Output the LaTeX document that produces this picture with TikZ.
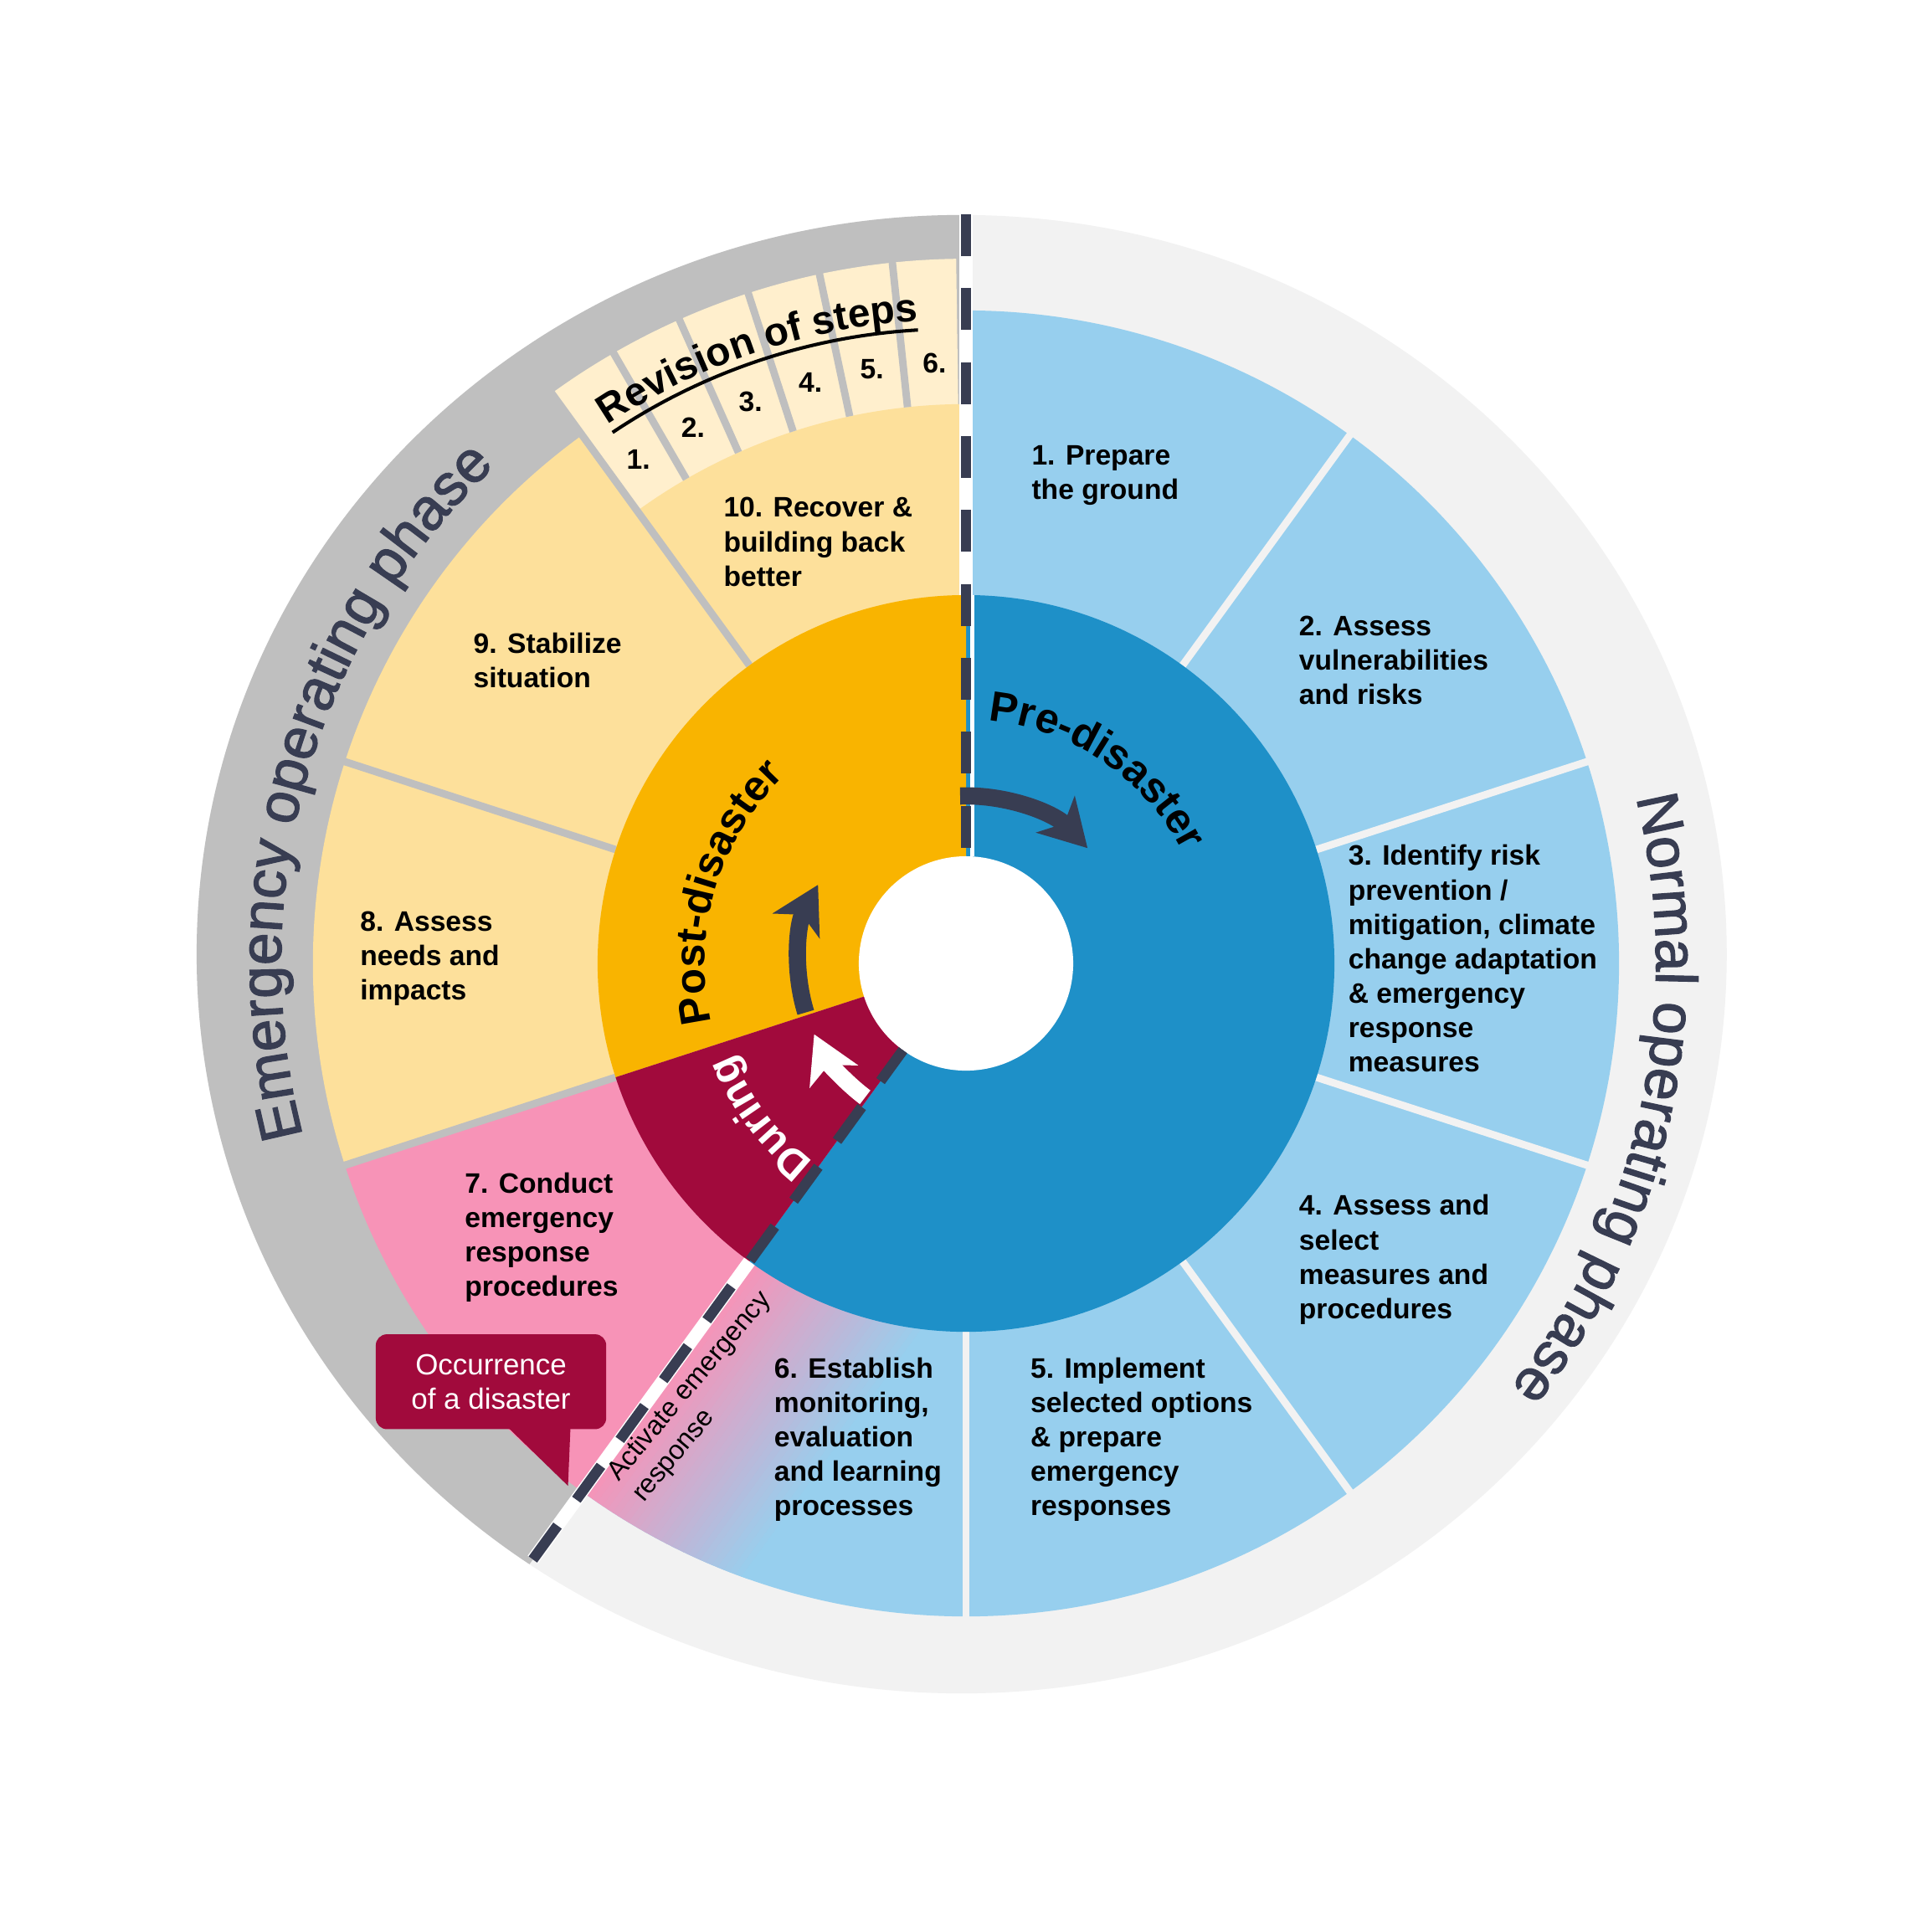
\documentclass[tikz,border=0pt]{standalone}
\usepackage{fontspec}
\setmainfont{Liberation Sans}
\newfontfamily\ringfamily{Liberation Sans}[FakeBold=1.8]
\usetikzlibrary{arrows.meta,decorations.text}

\definecolor{lightblue}{HTML}{97CFEE}
\definecolor{deepblue}{HTML}{1E90C8}
\definecolor{amber}{HTML}{F9B400}
\definecolor{paleyellow}{HTML}{FDE09B}
\definecolor{cream}{HTML}{FFEFCD}
\definecolor{pinkseg}{HTML}{F793B7}
\definecolor{crimson}{HTML}{A10A3C}
\definecolor{ringgray}{HTML}{BFBFBF}
\definecolor{ringlight}{HTML}{F2F2F2}
\definecolor{slate}{HTML}{383D52}

\newcommand{\ringtext}{\ringfamily\fontsize{27}{30}\selectfont\color{slate}}
\newcommand{\phasetext}{\bfseries\fontsize{19.6}{22}\selectfont}
\newcommand{\duringtext}{\bfseries\fontsize{19.6}{22}\selectfont\color{white}}
\newcommand{\revtext}{\bfseries\fontsize{18.5}{20}\selectfont}

\begin{document}
\begin{tikzpicture}[x=0.2mm,y=0.2mm]
	\tikzset{seglabel/.style = {anchor=north west, align=left, inner sep=0pt, font=\bfseries\fontsize{13}{15.9}\selectfont}}
	\tikzset{revnum/.style = {inner sep=0pt, font=\bfseries\fontsize{13}{15.9}\selectfont}}
	\tikzset{gapline/.style = {line width=1.2mm}}
	\tikzset{phasebase/.style = {line width=2.1mm, white}}
	\tikzset{phasethin/.style = {line width=0.6mm, white}}
	\tikzset{phasedash/.style = {line width=1.7mm, slate, dash pattern=on 6.8mm off 5.2mm}}
	\tikzset{cyclearrow/.style = {line width=2.8mm, -{Stealth[length=7.5mm, width=8.5mm, inset=2mm]}}}
	\tikzset{callout/.style = {fill=crimson, text=white, rounded corners=1.8mm, align=center, inner sep=0pt, minimum width=37.4mm, minimum height=15.4mm, font=\fontsize{13.5}{16}\selectfont}}
	\tikzset{activatelabel/.style = {align=left, inner sep=0pt, font=\fontsize{12.5}{15}\selectfont}}
	\useasboundingbox (-784,-785) rectangle (784,782);
	\fill[white] (-784,-785) rectangle (784,782);
	% outer ring
	\fill[ringlight] (-3.5,7.5) ellipse[x radius=620.9, y radius=600];
	\begin{scope}
		\clip (0,0) -- (90:1200) -- (162:1200) -- (234:1200) -- cycle;
		\fill[ringgray] (-3.5,7.5) ellipse[x radius=620.9, y radius=600];
	\end{scope}
	% steps 1 to 6
	\foreach \a in {90,54,18,-18,-54,-90}
		\fill[lightblue] (0,0) -- (\a:530) arc[start angle=\a, end angle=\a-36, radius=530] -- cycle;
	\begin{scope}
		\clip (0,0) -- (-90:530) arc[start angle=-90, end angle=-126, radius=530] -- cycle;
		\begin{scope}[rotate=-36]
			\foreach \k in {0,...,29}
				\fill[pinkseg!\fpeval{100-100*\k/29}!lightblue] (\k*5,-600) rectangle (\k*5+5.6,0);
		\end{scope}
	\end{scope}
	% steps 7 to 10 and revision band
	\fill[pinkseg] (0,0) -- (198:530) arc[start angle=198, end angle=234, radius=530] -- cycle;
	\fill[paleyellow] (0,0) -- (126:530) arc[start angle=126, end angle=198, radius=530] -- cycle;
	\fill[cream] (0,0) -- (90.8:572) arc[start angle=90.8, end angle=126, radius=572] -- cycle;
	\fill[paleyellow] (0,0) -- (90:454) arc[start angle=90, end angle=126, radius=454] -- cycle;
	\foreach \a in {54,18,-18,-54,-90}
		\draw[gapline, ringlight] (\a:299) -- (\a:540);
	\foreach \a in {162,198}
		\draw[gapline, ringgray] (\a:299) -- (\a:540);
	\draw[gapline, ringgray] (126:299) -- (126:580);
	\foreach \a in {96,102,...,120}
		\draw[gapline, ringgray] (\a:454) -- (\a:580);
	% inner ring
	\fill[deepblue] (0,0) -- (90:299) arc[start angle=90, end angle=-126, radius=299] -- cycle;
	\fill[amber] (0,0) -- (90:299) arc[start angle=90, end angle=198, radius=299] -- cycle;
	\fill[crimson] (0,0) -- (198:299) arc[start angle=198, end angle=234, radius=299] -- cycle;
	\fill[white] (0,0) circle[radius=87];
	% phase borders
	\draw[phasebase] (90:608) -- (90:299);
	\draw[phasethin] (5,299) -- (5,87);
	\draw[phasedash] (90:608) -- (90:87);
	\draw[phasebase] (234:598) -- (234:299);
	\draw[phasedash] (234:598) -- (234:87);
	% cycle arrows
	\draw[cyclearrow, slate] (92:136) arc[start angle=92, end angle=43.5, radius=136];
	\draw[cyclearrow, slate] (197:136) arc[start angle=197, end angle=152, radius=136];
	\draw[cyclearrow, white] (233:136) arc[start angle=233, end angle=205, radius=136];
	% ring texts
	\path[decorate, decoration={text along path, text align=center, text={|\ringtext|Emergency operating phase}}] (215:556) arc[start angle=215, end angle=113, radius=556];
	\path[decorate, decoration={text along path, text align=center, text={|\ringtext|Normal operating phase}}] (33:560) arc[start angle=33, end angle=-57, radius=560];
	\path[decorate, decoration={text along path, text align=center, text={|\phasetext|Pre-disaster}}] (100:198) arc[start angle=100, end angle=12, radius=198];
	\path[decorate, decoration={text along path, text align=center, text={|\phasetext|Post-disaster}}] (210:212) arc[start angle=210, end angle=117, radius=212];
	\path[decorate, decoration={text along path, text align=center, text={|\duringtext|During}}] (250:203) arc[start angle=250, end angle=183.6, radius=203];
	% revision of steps
	\coordinate (revctr) at (-10.4,18);
	\draw[line width=0.55mm] ([shift={(123.8:497)}]revctr) arc[start angle=123.8, end angle=93.3, radius=497];
	\path[decorate, decoration={text along path, text align=center, text={|\revtext|Revision of steps}}] ([shift={(135:504)}]revctr) arc[start angle=135, end angle=82, radius=504];
	\foreach \i in {1,...,6}
		\node[revnum] (rev\i) at ({129-6*\i}:488) {\i.};
	% step labels
	\node[seglabel] (step1) at (53,420.5) {1. Prepare\\the ground};
	\node[seglabel] (step2) at (270,282.5) {2. Assess\\vulnerabilities\\and risks};
	\node[seglabel] (step3) at (310,96.5) {3. Identify risk\\prevention /\\mitigation, climate\\change adaptation\\\& emergency\\response\\measures};
	\node[seglabel] (step4) at (270,-187.5) {4. Assess and\\select\\measures and\\procedures};
	\node[seglabel] (step5) at (52,-319.5) {5. Implement\\selected options\\\& prepare\\emergency\\responses};
	\node[seglabel] (step6) at (-156,-319.5) {6. Establish\\monitoring,\\evaluation\\and learning\\processes};
	\node[seglabel] (step7) at (-407,-169.5) {7. Conduct\\emergency\\response\\procedures};
	\node[seglabel] (step8) at (-492,42.5) {8. Assess\\needs and\\impacts};
	\node[seglabel] (step9) at (-400,268.5) {9. Stabilize\\situation};
	\node[seglabel] (step10) at (-197,378.5) {10. Recover \&\\building back\\better};
	\node[activatelabel, rotate=50] (activate) at (-214,-352) {Activate emergency\\response};
	% occurrence callout
	\node[callout] (occ) at (-385.5,-339.5) {Occurrence\\of a disaster};
	\coordinate (occtip) at (-323,-424);
	\fill[crimson] ([shift={(13.5,2)}]occ.south) -- ([shift={(64.5,2)}]occ.south) -- (occtip) -- cycle;
\end{tikzpicture}
\end{document}
